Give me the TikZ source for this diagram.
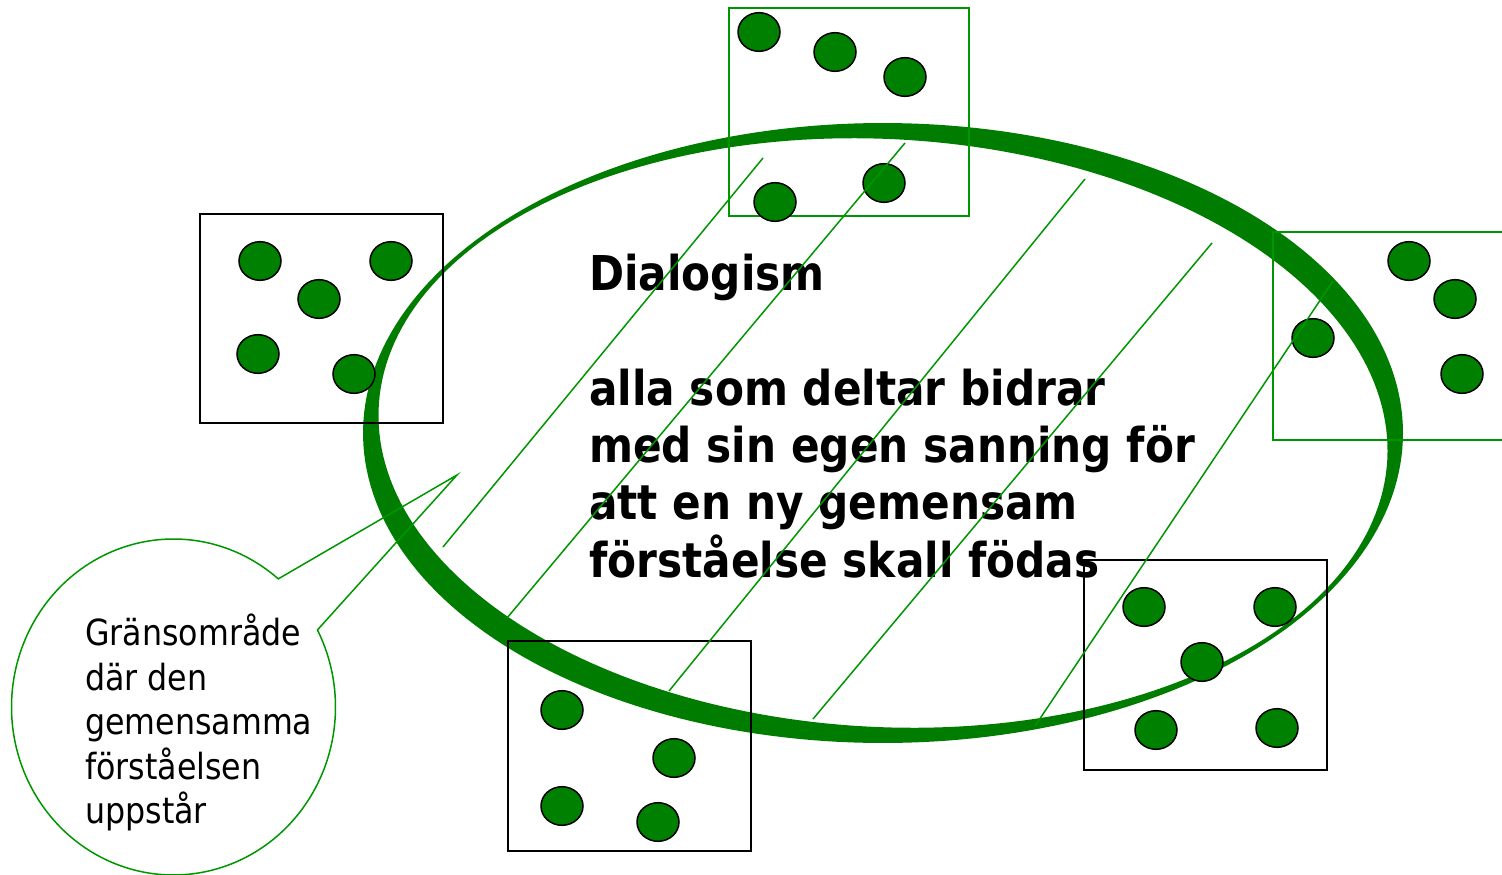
\documentclass[tikz,border=0pt]{standalone}
\usepackage{fontspec}
\newfontfamily\tah{DejaVu Sans}[FakeStretch=0.88]
\definecolor{ringgreen}{RGB}{0,125,0}
\definecolor{dotgreen}{RGB}{0,128,0}
\definecolor{thingreen}{RGB}{0,150,0}
\begin{document}
\begin{tikzpicture}[x=1pt,y=-1pt,
  dotc/.style={fill=dotgreen,draw=black,line width=1.5pt},
  blackbox/.style={draw=black,line width=2.5pt},
  greenbox/.style={draw=thingreen,line width=2pt},
  hatch/.style={draw=thingreen,line width=1.5pt},
  bigtext/.style={font=\tah\bfseries\fontsize{48}{57.5}\selectfont, anchor=base west, inner sep=0pt},
  smalltext/.style={font=\tah\fontsize{36}{45}\selectfont, anchor=base west, inner sep=0pt}]
\clip (0,0) rectangle (1502,875);
\fill[white] (0,0) rectangle (1502,875);

% ring (outer ellipse minus tilted inner ellipse)
\fill[ringgreen, even odd rule]
  plot[domain=0:360, samples=240, variable=\t] ({883+520*cos(\t)}, {433+310*sin(\t)}) -- cycle
  plot[domain=0:360, samples=240, variable=\t]
    ({883+505*cos(\t)*cos(3)-294*sin(\t)*sin(3)}, {433+505*cos(\t)*sin(3)+294*sin(\t)*cos(3)}) -- cycle;

% boxes
\draw[greenbox] (729,8) rectangle (969,216);
\draw[blackbox] (200,214) rectangle (443,423);
\draw[greenbox] (1273,232) rectangle (1520,440);
\draw[blackbox] (508,641) rectangle (751,851);
\draw[blackbox] (1084,560) rectangle (1327,770);

% dots
\foreach \p in {(759,32),(835,52),(905,77),(775,202),(884,183),
                (260,261),(391,261),(319,299),(258,354),(354,374),
                (1409,261),(1455,299),(1462,374),(1313,338),
                (562,710),(674,758),(562,806),(658,822),
                (1144,607),(1275,607),(1202,662),(1156,730),(1277,728)}
  \path[dotc] \p ellipse [x radius=21, y radius=19.3];

% main text
\node[bigtext] (t0) at (589,290) {Dialogism};
\node[bigtext] (t1) at (589,405) {alla som deltar bidrar};
\node[bigtext] (t2) at (589,462) {med sin egen sanning för};
\node[bigtext] (t3) at (589,519) {att en ny gemensam};
\node[bigtext] (t4) at (589,577) {förståelse skall födas};

% hatch lines
\draw[hatch] (443,547) -- (763,158);
\draw[hatch] (507,618) -- (905,143);
\draw[hatch] (669,691) -- (1085,179);
\draw[hatch] (813,719) -- (1212,243);
\draw[hatch] (1035,726) -- (1333,281);

% callout
\coordinate (tip) at (457,475);
\draw[draw=thingreen, line width=1.5pt, line join=miter]
  plot[domain=-27.3:310.3, samples=200, variable=\t] ({173.5+162*cos(\t)}, {707+168*sin(\t)})
  -- (tip) -- cycle;
\node[smalltext] (c0) at (85,645) {Gränsområde};
\node[smalltext] (c1) at (85,690) {där den};
\node[smalltext] (c2) at (85,734) {gemensamma};
\node[smalltext] (c3) at (85,779) {förståelsen};
\node[smalltext] (c4) at (85,823) {uppstår};
\end{tikzpicture}
\end{document}
